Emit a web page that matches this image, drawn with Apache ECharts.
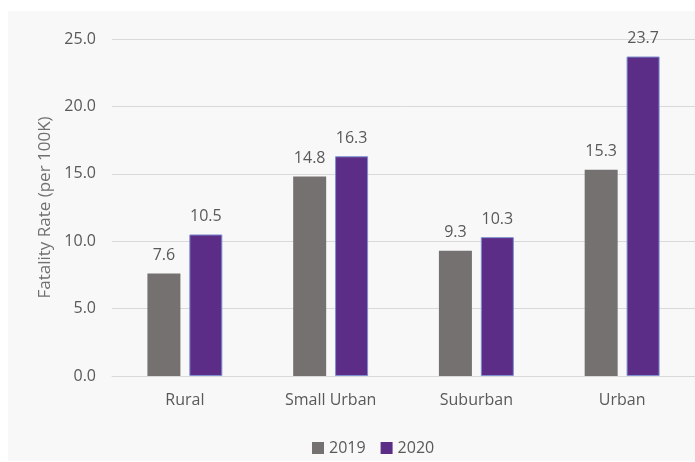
<!DOCTYPE html>
<html>
<head>
<meta charset="utf-8">
<script src="https://cdn.jsdelivr.net/npm/echarts@6/dist/echarts.min.js"></script>
<style>
html,body{margin:0;padding:0;background:#ffffff;}
#chart{width:695px;height:462px;}
</style>
</head>
<body>
<div id="chart"></div>
<script>
const categories = ['Rural', 'Small Urban', 'Suburban', 'Urban'];
const values2019 = [7.6, 14.8, 9.3, 15.3];
const values2020 = [10.5, 16.3, 10.3, 23.7];
const yTicks = [0, 5, 10, 15, 20, 25];
const seriesNames = ['2019', '2020'];

const FONT = '"Open Sans", "Noto Sans", sans-serif';
const chart = echarts.init(document.getElementById('chart'), null, {renderer: 'canvas'});
chart.setOption({
  backgroundColor: '#ffffff',
  animation: false,
  graphic: [{
    type: 'rect', z: -10, silent: true,
    shape: {x: 8, y: 11, width: 700, height: 450},
    style: {fill: '#f8f8f8'}
  }],
  grid: {left: 112, right: 0, top: 39, bottom: 86, containLabel: false},
  legend: {
    data: seriesNames,
    left: 307, top: 435,
    itemWidth: 12, itemHeight: 12, itemGap: 15,
    icon: 'rect',
    itemStyle: {borderWidth: 0},
    textStyle: {color: '#595959', fontSize: 16, fontFamily: FONT}
  },
  xAxis: {
    type: 'category',
    data: categories,
    axisLine: {show: true, lineStyle: {color: '#d9d9d9', width: 1}},
    axisTick: {show: false},
    axisLabel: {color: '#595959', fontSize: 16, fontFamily: FONT, margin: 16}
  },
  yAxis: {
    type: 'value',
    min: yTicks[0], max: yTicks[yTicks.length - 1], interval: 5,
    name: 'Fatality Rate (per 100K)',
    nameLocation: 'middle',
    nameGap: 57,
    nameRotate: 90,
    nameTextStyle: {color: '#707070', fontSize: 17, fontFamily: FONT},
    axisLine: {show: false},
    axisTick: {show: false},
    splitLine: {lineStyle: {color: '#d9d9d9', width: 1}},
    axisLabel: {
      color: '#595959', fontSize: 16, fontFamily: FONT, margin: 16,
      formatter: v => v.toFixed(1)
    }
  },
  series: [
    {
      name: seriesNames[0], type: 'bar', data: values2019,
      barWidth: 33, barGap: '27%',
      itemStyle: {color: '#767171'},
      label: {show: true, position: 'top', distance: 10, color: '#595959', fontSize: 16, fontFamily: FONT,
        formatter: p => p.value.toFixed(1)}
    },
    {
      name: seriesNames[1], type: 'bar', data: values2020,
      barWidth: 33, barGap: '27%',
      itemStyle: {color: '#5b2d87', borderColor: '#7d8fcf', borderWidth: 1},
      label: {show: true, position: 'top', distance: 10, color: '#595959', fontSize: 16, fontFamily: FONT,
        formatter: p => p.value.toFixed(1)}
    }
  ]
});
</script>
</body>
</html>
